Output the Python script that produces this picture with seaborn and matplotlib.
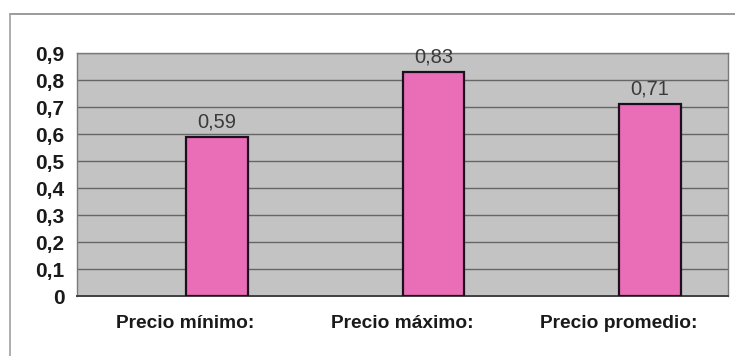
import matplotlib
matplotlib.use("Agg")
import matplotlib.pyplot as plt
from matplotlib.lines import Line2D
from matplotlib.ticker import FuncFormatter, FixedLocator
import seaborn as sns
import pandas as pd

categorias = ["Precio mínimo:", "Precio máximo:", "Precio promedio:"]
valores = [0.59, 0.83, 0.71]
etiquetas_valor = ["0,59", "0,83", "0,71"]
ticks_y = [0, 0.1, 0.2, 0.3, 0.4, 0.5, 0.6, 0.7, 0.8, 0.9]

sns.set_style("white")
plt.rcParams["font.family"] = ["Liberation Sans", "DejaVu Sans"]

df = pd.DataFrame({"categoria": categorias, "valor": valores})

fig = plt.figure(figsize=(7.35, 3.56), dpi=100)
fig.patch.set_facecolor("white")
ax = fig.add_axes([77 / 735, 1 - 296 / 356, (728 - 77) / 735, (296 - 53) / 356])
ax.set_facecolor("#c3c3c3")

sns.barplot(data=df, x="categoria", y="valor", ax=ax, color="#ea6eb7",
            width=0.285, edgecolor="#1e0f1e", linewidth=1.6, saturation=1,
            zorder=3)

ax.set_ylim(0, 0.9)
ax.set_xlim(-0.646, 2.36)
ax.set_yticks(ticks_y)
ax.yaxis.set_major_formatter(FuncFormatter(lambda v, p: ("%g" % round(v, 1)).replace(".", ",")))
ax.grid(axis="y", color="#666666", linewidth=1.0, zorder=1)
ax.set_axisbelow(True)

# category labels sit slightly left of the bar centres
pos_etiquetas = [i - 0.146 for i in range(len(categorias))]
ax.set_xticks(pos_etiquetas)
ax.set_xticklabels(categorias, fontsize=13.8, fontweight="bold", color="#1a1a1a")
ax.tick_params(axis="x", length=0, pad=14)
ax.xaxis.set_minor_locator(FixedLocator([0.354, 1.354]))
ax.tick_params(axis="x", which="minor", length=5, width=1, color="#606060", direction="out")
ax.tick_params(axis="y", length=6, width=1, color="#606060", direction="out", pad=3,
               labelsize=15, labelcolor="#1a1a1a")
for t in ax.get_yticklabels():
    t.set_fontweight("bold")
ax.set_xlabel("")
ax.set_ylabel("")

for s in ax.spines.values():
    s.set_color("#7a7a7a")
    s.set_linewidth(1.0)
ax.spines["bottom"].set_color("#404040")
ax.spines["bottom"].set_linewidth(1.4)

for i, (v, lab) in enumerate(zip(valores, etiquetas_valor)):
    ax.annotate(lab, (i, v), xytext=(0, 4), textcoords="offset points",
                ha="center", va="bottom", fontsize=14.5, color="#3a3a3a", zorder=4)

# chart frame
fig.add_artist(Line2D([10 / 735, 1], [1 - 14 / 356, 1 - 14 / 356],
                      transform=fig.transFigure, color="#8a8a8a", linewidth=1.2))
fig.add_artist(Line2D([10 / 735, 10 / 735], [0, 1 - 14 / 356],
                      transform=fig.transFigure, color="#a0a0a0", linewidth=1.2))

fig.savefig("out.png", dpi=100)
